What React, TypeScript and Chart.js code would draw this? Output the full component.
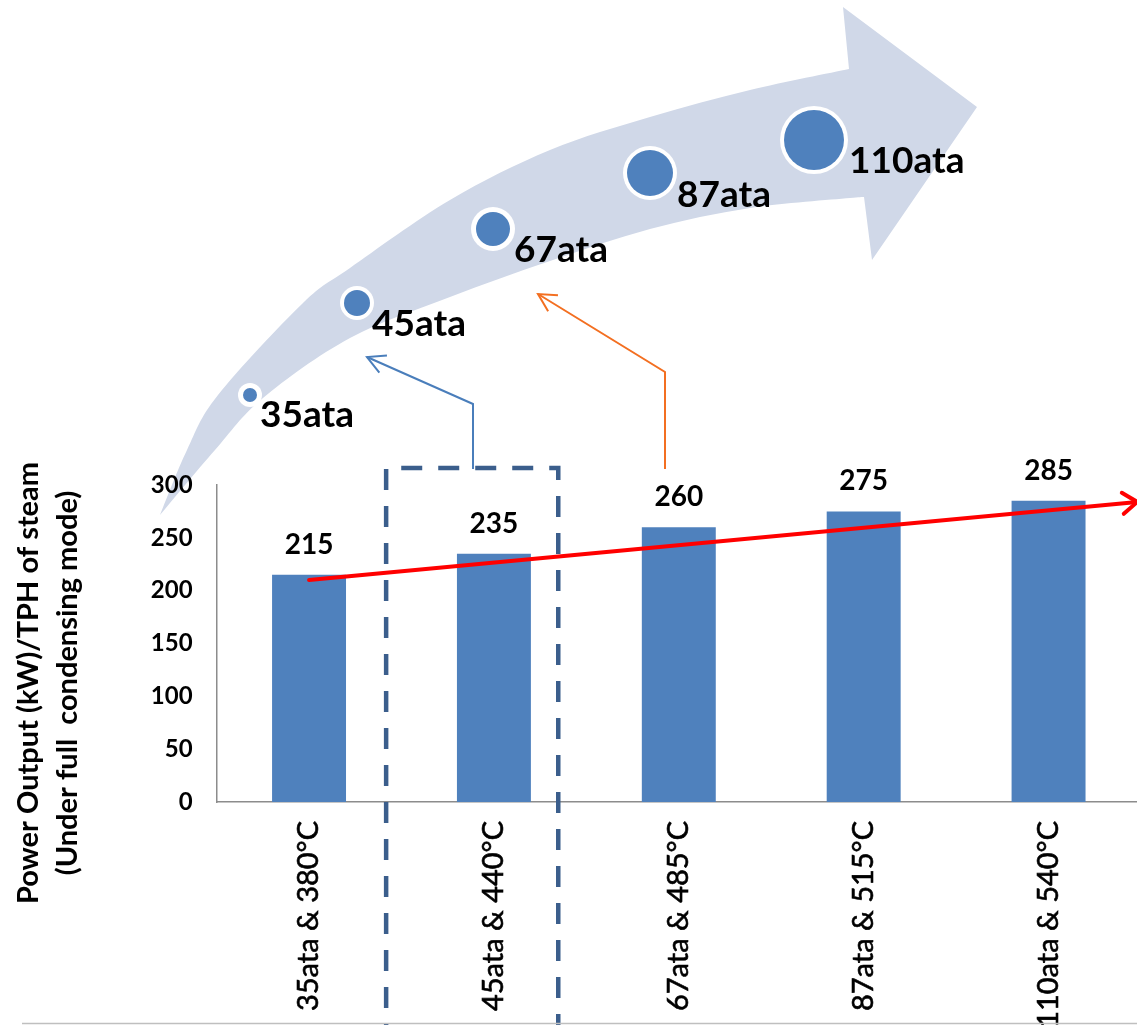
import React, { useEffect, useRef } from 'react';
import { Chart, registerables } from 'chart.js';

Chart.register(...registerables);

// ---------- data ----------
const categories = ['35ata & 380°C', '45ata & 440°C', '67ata & 485°C', '87ata & 515°C', '110ata & 540°C'];
const powerValues = [215, 235, 260, 275, 285];
const yMin = 0;
const yMax = 300;
const yStep = 50;
const pressureLabels = ['35ata', '45ata', '67ata', '87ata', '110ata'];
const yTitleLines = ['Power Output (kW)/TPH of steam', '(Under full  condensing mode)'];
// trend arrow (category index, value)
const trendFrom = [0, 210];
const trendTo = [4.48, 284];
// highlighted box (category index range, top value)
const boxFrom = 0.417;
const boxTo = 1.348;
const boxTop = 316;

// ---------- styles / layout ----------
const FONT = 'Lato, "Open Sans", "DejaVu Sans", sans-serif';
const BAR_COLOR = '#4F81BD';
const AXIS_COLOR = '#8C8C8C';
const BAND_COLOR = '#D0D8E8';
const BOX_COLOR = '#3B5E8C';
const BLUE_LINK = '#4A7EBB';
const ORANGE_LINK = '#F36F21';
const CANVAS_W = 1141;
const CANVAS_H = 1025;

const ARROW_OUTER = [[160, 515], [187, 450], [218, 395], [303, 303], [350, 268], [450, 200], [550, 150], [650, 117], [750, 90], [849, 69]];
const ARROW_HEAD = [[843, 7], [977, 107], [872, 260]];
const ARROW_INNER = [[864, 197], [850, 198], [750, 208], [650, 229], [550, 261], [450, 297], [350, 338], [263, 398], [215, 450], [160, 515]];

const BUBBLES = [
  { cx: 250, cy: 395, r: 7, ring: 5, lx: 260, ly: 427 },
  { cx: 357, cy: 303, r: 13, ring: 4, lx: 372, ly: 336 },
  { cx: 493, cy: 229, r: 17, ring: 5, lx: 514, ly: 262 },
  { cx: 650, cy: 173, r: 23, ring: 4, lx: 677, ly: 207 },
  { cx: 814, cy: 140, r: 30, ring: 4, lx: 849, ly: 173 },
];

const LINKS = [
  { color: BLUE_LINK, pts: [[473, 469], [473, 404], [367, 357]] },
  { color: ORANGE_LINK, pts: [[665, 469], [665, 372], [538, 294]] },
];

function splineThrough(ctx: CanvasRenderingContext2D, pts: number[][]) {
  for (let i = 0; i < pts.length - 1; i++) {
    const p0 = pts[i - 1] || pts[i];
    const p1 = pts[i];
    const p2 = pts[i + 1];
    const p3 = pts[i + 2] || p2;
    ctx.bezierCurveTo(
      p1[0] + (p2[0] - p0[0]) / 6, p1[1] + (p2[1] - p0[1]) / 6,
      p2[0] - (p3[0] - p1[0]) / 6, p2[1] - (p3[1] - p1[1]) / 6,
      p2[0], p2[1]
    );
  }
}

function openArrowHead(ctx: CanvasRenderingContext2D, fromX: number, fromY: number, tipX: number, tipY: number, len: number, angDeg: number) {
  const a = Math.atan2(fromY - tipY, fromX - tipX);
  const d = (angDeg * Math.PI) / 180;
  ctx.beginPath();
  ctx.moveTo(tipX + len * Math.cos(a + d), tipY + len * Math.sin(a + d));
  ctx.lineTo(tipX, tipY);
  ctx.lineTo(tipX + len * Math.cos(a - d), tipY + len * Math.sin(a - d));
  ctx.stroke();
}

const decorPlugin = {
  id: 'decor',
  beforeDraw(chart: any) {
    const ctx: CanvasRenderingContext2D = chart.ctx;
    ctx.save();
    // curved band arrow
    ctx.fillStyle = BAND_COLOR;
    ctx.beginPath();
    ctx.moveTo(ARROW_OUTER[0][0], ARROW_OUTER[0][1]);
    splineThrough(ctx, ARROW_OUTER);
    ARROW_HEAD.forEach((p) => ctx.lineTo(p[0], p[1]));
    ctx.lineTo(ARROW_INNER[0][0], ARROW_INNER[0][1]);
    splineThrough(ctx, ARROW_INNER);
    ctx.closePath();
    ctx.fill();
    ctx.restore();
  },
  afterDatasetsDraw(chart: any) {
    const ctx: CanvasRenderingContext2D = chart.ctx;
    const xs = chart.scales.x;
    const ys = chart.scales.y;
    ctx.save();
    // dashed highlight box
    const bl = xs.getPixelForValue(boxFrom);
    const br = xs.getPixelForValue(boxTo);
    const bt = ys.getPixelForValue(boxTop);
    ctx.strokeStyle = BOX_COLOR;
    ctx.lineWidth = 4.5;
    ctx.setLineDash([21, 16]);
    ctx.beginPath();
    ctx.moveTo(bl, CANVAS_H + 20);
    ctx.lineTo(bl, bt);
    ctx.lineTo(br, bt);
    ctx.lineTo(br, CANVAS_H + 20);
    ctx.stroke();
    ctx.setLineDash([]);

    // trend arrow
    const x1 = xs.getPixelForValue(trendFrom[0]);
    const y1 = ys.getPixelForValue(trendFrom[1]);
    const x2 = xs.getPixelForValue(trendTo[0]);
    const y2 = ys.getPixelForValue(trendTo[1]);
    ctx.strokeStyle = '#FF0000';
    ctx.lineWidth = 4;
    ctx.lineCap = 'round';
    ctx.beginPath();
    ctx.moveTo(x1, y1);
    ctx.lineTo(x2, y2);
    ctx.stroke();
    openArrowHead(ctx, x1, y1, x2, y2, 18, 36);

    // value labels
    const meta = chart.getDatasetMeta(0);
    ctx.fillStyle = '#000';
    ctx.font = `bold 28px ${FONT}`;
    ctx.textAlign = 'center';
    ctx.textBaseline = 'alphabetic';
    meta.data.forEach((bar: any, i: number) => {
      ctx.fillText(String(powerValues[i]), bar.x, bar.y - 21);
    });
    ctx.restore();
  },
  afterDraw(chart: any) {
    const ctx: CanvasRenderingContext2D = chart.ctx;
    ctx.save();
    // bubbles + pressure labels
    BUBBLES.forEach((b, i) => {
      ctx.fillStyle = '#FFFFFF';
      ctx.beginPath();
      ctx.arc(b.cx, b.cy, b.r + b.ring, 0, Math.PI * 2);
      ctx.fill();
      ctx.fillStyle = BAR_COLOR;
      ctx.beginPath();
      ctx.arc(b.cx, b.cy, b.r, 0, Math.PI * 2);
      ctx.fill();
      ctx.fillStyle = '#000';
      ctx.font = `bold 37px ${FONT}`;
      ctx.textAlign = 'left';
      ctx.textBaseline = 'alphabetic';
      ctx.fillText(pressureLabels[i], b.lx, b.ly);
    });
    // link arrows
    LINKS.forEach((l) => {
      ctx.strokeStyle = l.color;
      ctx.lineWidth = 2;
      ctx.lineJoin = 'miter';
      ctx.beginPath();
      ctx.moveTo(l.pts[0][0], l.pts[0][1]);
      for (let i = 1; i < l.pts.length; i++) ctx.lineTo(l.pts[i][0], l.pts[i][1]);
      ctx.stroke();
      const n = l.pts.length;
      openArrowHead(ctx, l.pts[n - 2][0], l.pts[n - 2][1], l.pts[n - 1][0], l.pts[n - 1][1], 20, 28);
    });
    // y title
    ctx.fillStyle = '#000';
    ctx.font = `bold 29px ${FONT}`;
    ctx.textAlign = 'center';
    ctx.textBaseline = 'alphabetic';
    const midY = 683;
    [38, 77].forEach((bx, i) => {
      ctx.save();
      ctx.translate(bx, midY);
      ctx.rotate(-Math.PI / 2);
      ctx.fillText(yTitleLines[i], 0, 0);
      ctx.restore();
    });
    // bottom rule
    ctx.strokeStyle = '#BFBFBF';
    ctx.lineWidth = 1.5;
    ctx.beginPath();
    ctx.moveTo(22, CANVAS_H - 1.5);
    ctx.lineTo(CANVAS_W, CANVAS_H - 1.5);
    ctx.stroke();
    ctx.restore();
  },
};

export default function App() {
  const canvasRef = useRef<HTMLCanvasElement | null>(null);

  useEffect(() => {
    if (!canvasRef.current) return;
    const chart = new Chart(canvasRef.current, {
      type: 'bar',
      data: {
        labels: categories,
        datasets: [
          {
            data: powerValues,
            backgroundColor: BAR_COLOR,
            categoryPercentage: 1,
            barPercentage: 0.4,
          },
        ],
      },
      options: {
        responsive: false,
        maintainAspectRatio: false,
        animation: false,
        devicePixelRatio: 1,
        layout: { padding: { top: 485, left: 0, right: 0, bottom: 0 } },
        plugins: { legend: { display: false }, tooltip: { enabled: false }, title: { display: false } },
        scales: {
          x: {
            grid: { display: false, drawTicks: false },
            border: { display: true, color: AXIS_COLOR, width: 1.5 },
            ticks: {
              color: '#000',
              font: { family: FONT, size: 29, weight: 'normal' },
              textStrokeColor: '#000',
              textStrokeWidth: 0.6,
              minRotation: 90,
              maxRotation: 90,
              autoSkip: false,
              padding: 19,
            },
            afterFit: (s: any) => {
              s.height = CANVAS_H - 802;
              s.paddingLeft = 0;
              s.paddingRight = 0;
            },
          },
          y: {
            min: yMin,
            max: yMax,
            grid: { display: false, drawTicks: false },
            border: { display: true, color: AXIS_COLOR, width: 1.5 },
            ticks: {
              stepSize: yStep,
              color: '#000',
              font: { family: FONT, size: 24, weight: 'bold' },
              padding: 24,
            },
            afterFit: (s: any) => {
              s.width = 216.6;
              s.paddingTop = 0;
              s.paddingBottom = 0;
            },
          },
        },
      },
      plugins: [decorPlugin],
    });
    return () => chart.destroy();
  }, []);

  return (
    <div style={{ position: 'absolute', left: 0, top: 0, width: 1137, height: CANVAS_H, overflow: 'hidden', background: '#fff' }}>
      <canvas ref={canvasRef} width={CANVAS_W} height={CANVAS_H} style={{ display: 'block' }} />
    </div>
  );
}
